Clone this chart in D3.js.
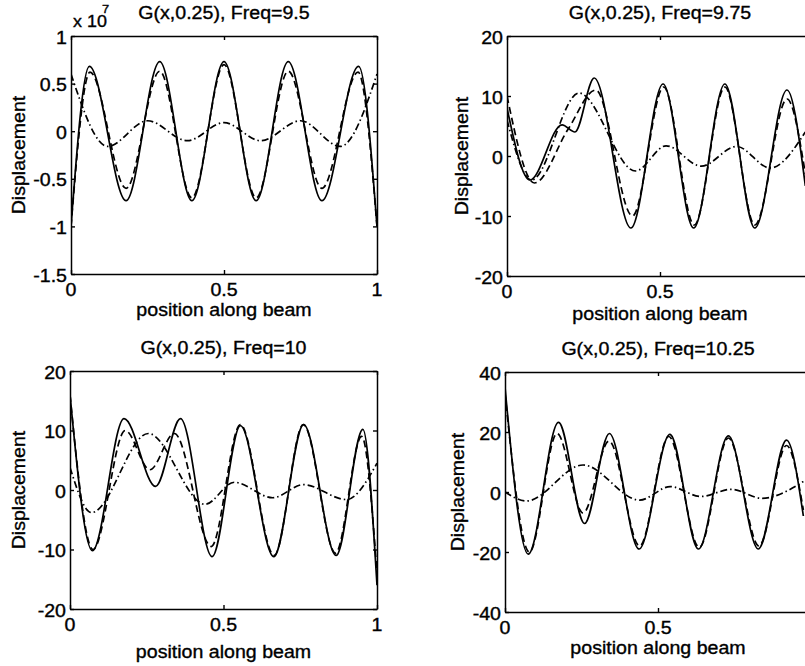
<!DOCTYPE html>
<html>
<head>
<meta charset="utf-8">
<script src="https://cdn.jsdelivr.net/npm/d3@7"></script>
<style>
  body { margin: 0; background: #fff; }
  svg { display: block; }
  text { font-family: "Liberation Sans", Arial, Helvetica, sans-serif; fill: #000; stroke: #000; stroke-width: 0.35px; }
</style>
</head>
<body>
<div id="chart"></div>
<script>
// values, [position, displacement]
// Freq = 9.5 (displacement in units of 1e7)
const freq95Solid = [[0,-1.0],[0.06,0.68],[0.18,-0.73],[0.29,0.73],[0.395,-0.73],[0.5,0.73],[0.605,-0.73],[0.71,0.73],[0.82,-0.73],[0.94,0.68],[1,-1.0]];
const freq95Dashed = [[0,-1.0],[0.062,0.62],[0.18,-0.6],[0.29,0.63],[0.395,-0.7],[0.5,0.7],[0.605,-0.7],[0.71,0.63],[0.82,-0.6],[0.938,0.62],[1,-1.0]];
const freq95DashDot = [[0,0.6],[0.12,-0.16],[0.25,0.11],[0.38,-0.1],[0.5,0.09],[0.62,-0.1],[0.75,0.11],[0.88,-0.16],[1,0.6]];

// Freq = 9.75
const freq975Solid = [[0,8],[0.075,-4],[0.18,5.2],[0.222,4],[0.285,13],[0.405,-12],[0.51,12],[0.61,-12],[0.712,12],[0.81,-12],[0.915,11],[0.975,-5]];
const freq975Dashed = [[0,10],[0.09,-4.5],[0.2,4.5],[0.29,11],[0.41,-10],[0.512,11.5],[0.612,-11.5],[0.712,11.5],[0.81,-11.5],[0.915,9.5],[0.975,-3]];
const freq975DashDot = [[0,6],[0.08,-4],[0.235,10.5],[0.42,-2.5],[0.52,1.7],[0.635,-1.7],[0.75,1.6],[0.86,-2],[0.975,4]];

// Freq = 10
const freq10Solid = [[0,16],[0.073,-10.2],[0.176,12],[0.279,0.6],[0.36,12],[0.463,-11.2],[0.555,10.8],[0.664,-11.2],[0.761,11],[0.867,-11],[0.954,10.2],[1,-16]];
const freq10Dashed = [[0,16],[0.075,-10],[0.18,10],[0.26,3.4],[0.34,9.5],[0.46,-9.5],[0.555,11],[0.665,-11],[0.76,11],[0.865,-10.6],[0.95,9],[1,-14]];
const freq10DashDot = [[0,3.8],[0.07,-3.8],[0.255,9.5],[0.44,-2.4],[0.535,1.3],[0.66,-1.3],[0.76,0.9],[0.9,-1.6],[1,4.5]];

// Freq = 10.25
const freq1025Solid = [[0,35],[0.076,-20.7],[0.175,23.2],[0.26,-10.5],[0.341,19.5],[0.438,-19],[0.539,19.2],[0.632,-19],[0.73,18.7],[0.828,-19],[0.92,17.3],[0.975,-8]];
const freq1025Dashed = [[0,33],[0.08,-20],[0.17,19.5],[0.255,-7],[0.34,17],[0.44,-18],[0.535,18.5],[0.635,-18.5],[0.73,18],[0.83,-18],[0.92,15.5],[0.975,-6]];
const freq1025DashDot = [[0,0],[0.07,-3],[0.255,9],[0.44,-2.7],[0.54,1.8],[0.64,-1.5],[0.74,0.9],[0.84,-2.1],[0.975,3.5]];

// axis ticks
const xTicks = [0, 0.5, 1];
const xTickLabels = ["0", "0.5", "1"];
const yTicks95 = [-1.5, -1, -0.5, 0, 0.5, 1];
const yTickLabels95 = ["-1.5", "-1", "-0.5", "0", "0.5", "1"];
const yTicks20 = [-20, -10, 0, 10, 20];
const yTicks40 = [-40, -20, 0, 20, 40];

const W = 805, H = 666;
const fontSize = 17.5;
const stretch = 1.12;
const lineStyles = [null, "7,4", "7,3,1.5,3"];

const panels = [
  { title: "G(x,0.25), Freq=9.5", left: 71, top: 36, width: 306, height: 238,
    yDomain: [-1.5, 1], yTicks: yTicks95, yLabels: yTickLabels95,
    series: [freq95Solid, freq95Dashed, freq95DashDot],
    ylabelX: 19, xlabelY: 316, exponent: true },
  { title: "G(x,0.25), Freq=9.75", left: 507, top: 36, width: 306, height: 240,
    yDomain: [-20, 20], yTicks: yTicks20, yLabels: yTicks20.map(String),
    series: [freq975Solid, freq975Dashed, freq975DashDot],
    ylabelX: 462, xlabelY: 320 },
  { title: "G(x,0.25), Freq=10", left: 70, top: 371, width: 307, height: 238,
    yDomain: [-20, 20], yTicks: yTicks20, yLabels: yTicks20.map(String),
    series: [freq10Solid, freq10Dashed, freq10DashDot],
    ylabelX: 19, xlabelY: 658 },
  { title: "G(x,0.25), Freq=10.25", left: 505, top: 372, width: 306, height: 240,
    yDomain: [-40, 40], yTicks: yTicks40, yLabels: yTicks40.map(String),
    series: [freq1025Solid, freq1025Dashed, freq1025DashDot],
    ylabelX: 458, xlabelY: 654 }
];

const svg = d3.select("#chart").append("svg")
  .attr("width", W)
  .attr("height", H);

// text with a slight horizontal stretch, like the scanned figure
function label(parent, str, x, y, anchor, rot, size) {
  return parent.append("text")
    .attr("transform", `translate(${x},${y}) rotate(${rot || 0}) scale(${stretch},1)`)
    .attr("text-anchor", anchor || "middle")
    .style("font-size", (size || fontSize) + "px")
    .text(str);
}

panels.forEach((p, idx) => {
  const x = d3.scaleLinear().domain([0, 1]).range([p.left, p.left + p.width]);
  const y = d3.scaleLinear().domain(p.yDomain).range([p.top + p.height, p.top]);

  const g = svg.append("g");

  const clipId = "clip" + idx;
  svg.append("clipPath").attr("id", clipId)
    .append("rect")
    .attr("x", p.left).attr("y", p.top)
    .attr("width", p.width).attr("height", p.height);

  const line = d3.line()
    .x(d => x(d[0]))
    .y(d => y(d[1]))
    .curve(d3.curveMonotoneX);

  g.append("g").attr("clip-path", `url(#${clipId})`)
    .selectAll("path")
    .data(p.series)
    .enter().append("path")
    .attr("d", line)
    .attr("fill", "none")
    .attr("stroke", "#000")
    .attr("stroke-width", 1.7)
    .attr("stroke-dasharray", (d, i) => lineStyles[i]);

  // inward ticks on all four sides
  const tickLen = 4;
  const bottomAxis = d3.axisBottom(x).tickValues(xTicks).tickFormat("").tickSizeInner(-tickLen).tickSizeOuter(0);
  const topAxis = d3.axisTop(x).tickValues(xTicks).tickFormat("").tickSizeInner(-tickLen).tickSizeOuter(0);
  const leftAxis = d3.axisLeft(y).tickValues(p.yTicks).tickFormat("").tickSizeInner(-tickLen).tickSizeOuter(0);
  const rightAxis = d3.axisRight(y).tickValues(p.yTicks).tickFormat("").tickSizeInner(-tickLen).tickSizeOuter(0);

  [
    [bottomAxis, `translate(0,${p.top + p.height})`],
    [topAxis, `translate(0,${p.top})`],
    [leftAxis, `translate(${p.left},0)`],
    [rightAxis, `translate(${p.left + p.width},0)`]
  ].forEach(([ax, tr]) => {
    const a = g.append("g").attr("transform", tr).call(ax);
    a.selectAll("line, path").attr("stroke", "#000").attr("stroke-width", 1.4);
    a.select(".domain").attr("stroke-width", 1.5);
  });

  // tick labels (the right-hand panels run past the page edge)
  xTicks.forEach((v, i) => {
    if (x(v) + 6 > W) return;
    label(g, xTickLabels[i], x(v), p.top + p.height + 22, "middle");
  });
  p.yTicks.forEach((v, i) => {
    label(g, p.yLabels[i], p.left - 4, y(v) + 7.5, "end");
  });

  // title and axis labels
  label(g, p.title, p.left + p.width / 2, p.top - 17, "middle");
  label(g, "position along beam", p.left + p.width / 2, p.xlabelY, "middle");
  label(g, "Displacement", p.ylabelX + 6, p.top + p.height / 2, "middle", -90);

  if (p.exponent) {
    label(g, "x 10", p.left + 2, p.top - 9, "start", 0, 16);
    label(g, "7", p.left + 31, p.top - 23, "start", 0, 11.5);
  }
});
</script>
</body>
</html>
